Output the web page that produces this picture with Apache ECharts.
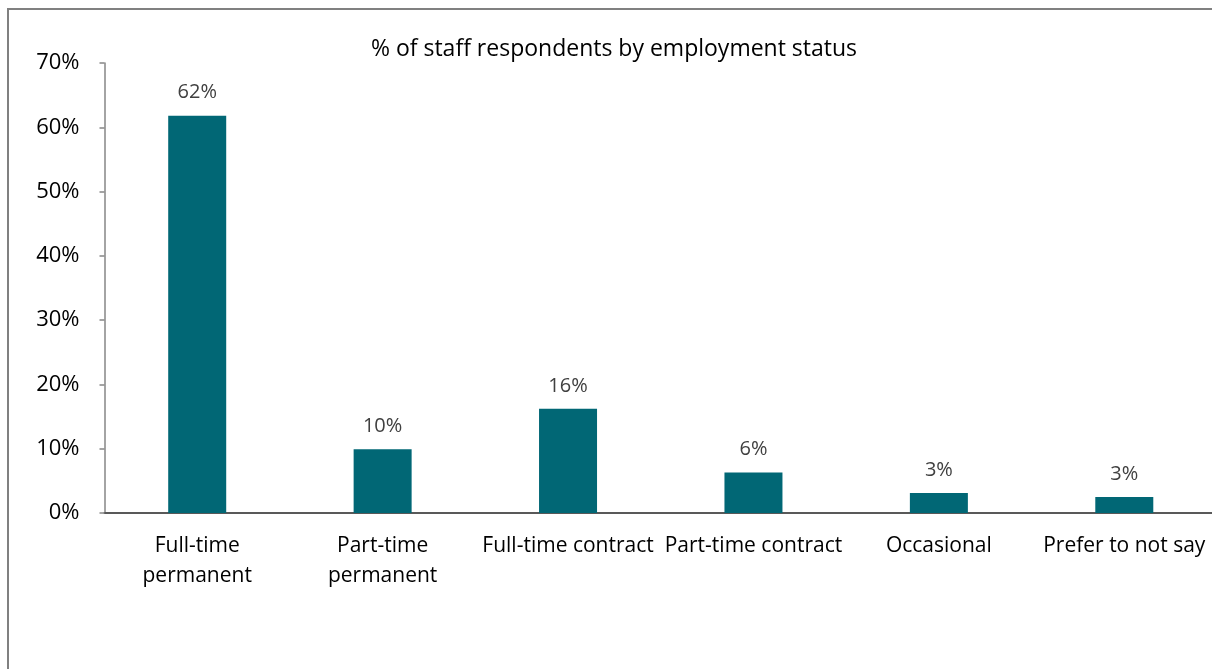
<!DOCTYPE html>
<html><head><meta charset="utf-8">
<script src="https://cdn.jsdelivr.net/npm/echarts@6/dist/echarts.min.js"></script>
<style>html,body{margin:0;padding:0;background:#fff}#c{width:1212px;height:669px}</style>
</head><body><div id="c"></div>
<script>
const title = '% of staff respondents by employment status';
const categories = ['Full-time\npermanent', 'Part-time\npermanent', 'Full-time contract', 'Part-time contract', 'Occasional', 'Prefer to not say'];
const values = [61.8, 9.9, 16.2, 6.3, 3.1, 2.5];
const yTicks = [0, 10, 20, 30, 40, 50, 60, 70];

const font = '"Open Sans", Lato, sans-serif';
const chart = echarts.init(document.getElementById('c'), null, {renderer: 'canvas'});
chart.setOption({
  animation: false,
  title: {text: title, left: 609, top: 33, textAlign: 'center',
    textStyle: {fontFamily: font, fontSize: 23, fontWeight: 'normal', color: '#000'}},
  graphic: [{type: 'rect', shape: {x: 8, y: 9, width: 1400, height: 900},
    style: {fill: 'none', stroke: '#808080', lineWidth: 2}, silent: true}],
  grid: {left: 104.5, width: 1112.5, top: 63, height: 450, containLabel: false, outerBoundsMode: 'none'},
  xAxis: {type: 'category', data: categories,
    axisLine: {lineStyle: {color: '#595959', width: 2}},
    axisTick: {show: false},
    axisLabel: {interval: 0, color: '#000', fontFamily: font, fontSize: 21, lineHeight: 30, margin: 18}},
  yAxis: {type: 'value', min: 0, max: 70, interval: 10,
    axisLine: {show: true, lineStyle: {color: '#868686', width: 1.5}},
    axisTick: {show: true, length: 5, lineStyle: {color: '#868686', width: 1.5}},
    splitLine: {show: false},
    axisLabel: {color: '#000', fontFamily: font, fontSize: 22, margin: 25,
      formatter: v => yTicks.includes(v) ? v + '%' : ''}},
  series: [{type: 'bar', data: values, barWidth: 58,
    itemStyle: {color: '#016775'},
    label: {show: true, position: 'top', distance: 13, color: '#404040', fontFamily: font, fontSize: 20,
      formatter: p => Math.round(p.value) + '%'}}]
});
</script></body></html>
